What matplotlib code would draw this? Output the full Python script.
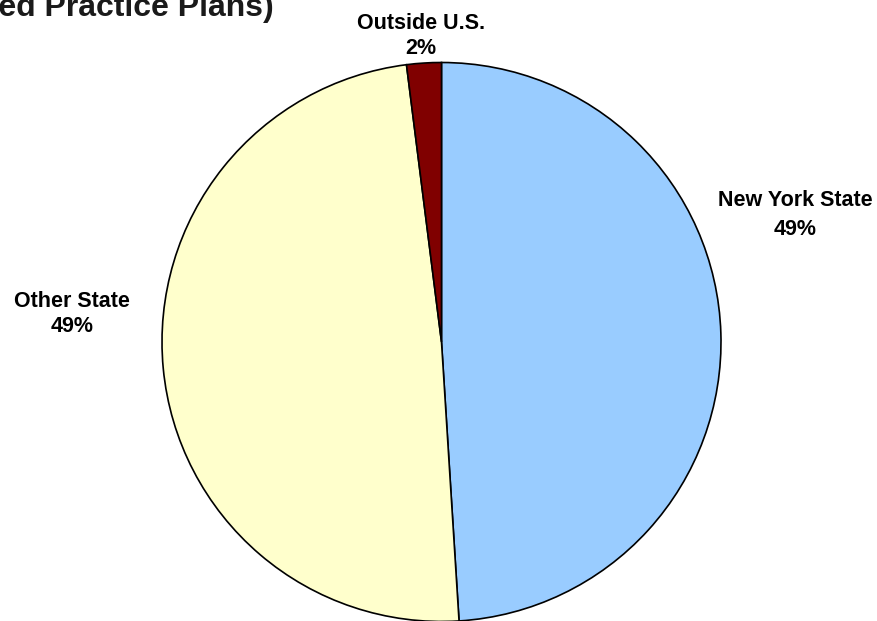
import matplotlib.pyplot as plt

# Distribucion por ubicacion
categorias = ['New York State', 'Other State', 'Outside U.S.']
porcentajes = [49, 49, 2]
colores = ['#99CCFF', '#FFFFCC', '#800000']

plt.rcParams['font.family'] = ['Liberation Sans', 'DejaVu Sans']

fig = plt.figure(figsize=(8.77, 6.21), dpi=100)

# Eje cuadrado en pixeles, centrado en el grafico
W, H = 877, 621
cx, cy, r = 441.5, 342, 279.5
ax = fig.add_axes([(cx - r) / W, (H - cy - r) / H, 2 * r / W, 2 * r / H])

wedges, _ = ax.pie(porcentajes, colors=colores, startangle=90, counterclock=False,
                   radius=1, wedgeprops=dict(edgecolor='black', linewidth=1.2))
ax.set_xlim(-1, 1)
ax.set_ylim(-1, 1)
ax.set_aspect('equal')
ax.axis('off')

# Etiquetas de cada sector (posicion en pixeles -> coordenadas de datos)
pos_etiquetas = [(795, 215), (72, 314), (421, 36)]
espaciado = [1.45, 1.3, 1.3]
for cat, pct, (px, py), ls in zip(categorias, porcentajes, pos_etiquetas, espaciado):
    ax.text((px - cx) / r, (cy - py) / r, f'{cat}\n{pct}%', ha='center', va='center',
            fontsize=15.5, fontweight='bold', linespacing=ls, clip_on=False)

# Titulo (cortado en el borde superior izquierdo)
fig.text(274 / W, 1 - 16 / H, '(Approved/Qualified Practice Plans)', ha='right', va='baseline',
         fontsize=23, fontweight='bold', color='#1a1a1a')

plt.savefig('out.png', dpi=100)
